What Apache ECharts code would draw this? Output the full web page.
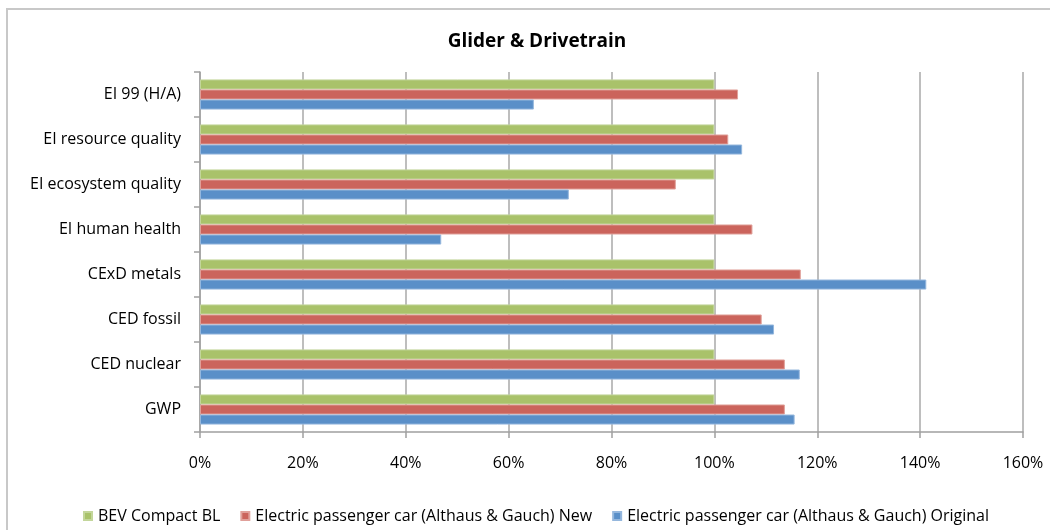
<!DOCTYPE html>
<html>
<head>
<meta charset="utf-8">
<script src="https://cdn.jsdelivr.net/npm/echarts@6/dist/echarts.min.js"></script>
<style>html,body{margin:0;padding:0;background:#fff;}#c{width:1050px;height:530px;}</style>
</head>
<body>
<div id="c"></div>
<script>
const categories = ['GWP', 'CED nuclear', 'CED fossil', 'CExD metals', 'EI human health', 'EI ecosystem quality', 'EI resource quality', 'EI 99 (H/A)'];
const bevCompactBL = [100, 100, 100, 100, 100, 100, 100, 100];
const althausNew = [113.7, 113.7, 109.2, 116.8, 107.4, 92.5, 102.7, 104.6];
const althausOriginal = [115.6, 116.6, 111.6, 141.2, 46.9, 71.7, 105.4, 64.9];
const xTicks = [0, 20, 40, 60, 80, 100, 120, 140, 160];
const seriesNames = ['BEV Compact BL', 'Electric passenger car (Althaus & Gauch) New', 'Electric passenger car (Althaus & Gauch) Original'];
const FONT = 'Open Sans';

const chart = echarts.init(document.getElementById('c'), null, {renderer: 'canvas'});
const colors = ['#A9C26A', '#CB645C', '#5A8FC8'];
const borders = ['#C3D69B', '#E0A09A', '#95B7DD'];
const data = [bevCompactBL, althausNew, althausOriginal];

chart.setOption({
  animation: false,
  backgroundColor: '#fff',
  textStyle: {fontFamily: FONT},
  graphic: [{
    type: 'rect', shape: {x: 7, y: 9, width: 1200, height: 700},
    style: {fill: 'none', stroke: '#C8C8C8', lineWidth: 2}, silent: true, z: -1
  }],
  title: {
    text: 'Glider & Drivetrain', left: 532, top: 27, textAlign: 'center',
    textStyle: {fontFamily: FONT, fontSize: 19, fontWeight: 'bold', color: '#000'}
  },
  legend: {
    data: seriesNames, left: 78, top: 503, icon: 'rect', itemWidth: 8, itemHeight: 8,
    itemGap: 20, textStyle: {fontFamily: FONT, fontSize: 16, color: '#000', padding: [0, 0, 0, 1]}
  },
  grid: {left: 200, right: 27, top: 72, bottom: 98, containLabel: false},
  xAxis: {
    type: 'value', min: xTicks[0], max: xTicks[xTicks.length - 1], interval: 20,
    axisLabel: {formatter: v => v + '%', fontSize: 16, color: '#000', margin: 23, fontFamily: FONT},
    axisLine: {show: true, lineStyle: {color: '#A0A0A0', width: 1.5}},
    axisTick: {show: true, length: 6, lineStyle: {color: '#A0A0A0', width: 1.5}},
    splitLine: {show: true, lineStyle: {color: '#A8A8A8', width: 1.5}}
  },
  yAxis: {
    type: 'category', data: categories,
    axisLabel: {fontSize: 16, color: '#000', margin: 19, fontFamily: FONT},
    axisLine: {show: true, lineStyle: {color: '#A0A0A0', width: 1.5}},
    axisTick: {show: true, length: 6, interval: 0, lineStyle: {color: '#A0A0A0', width: 1.5}},
    splitLine: {show: false}
  },
  series: [0, 1, 2].map(i => ({
    name: seriesNames[i], type: 'bar', data: data[i],
    barGap: '0%', barCategoryGap: '33%',
    itemStyle: {color: colors[i], borderColor: borders[i], borderWidth: 1}
  }))
});
</script>
</body>
</html>
